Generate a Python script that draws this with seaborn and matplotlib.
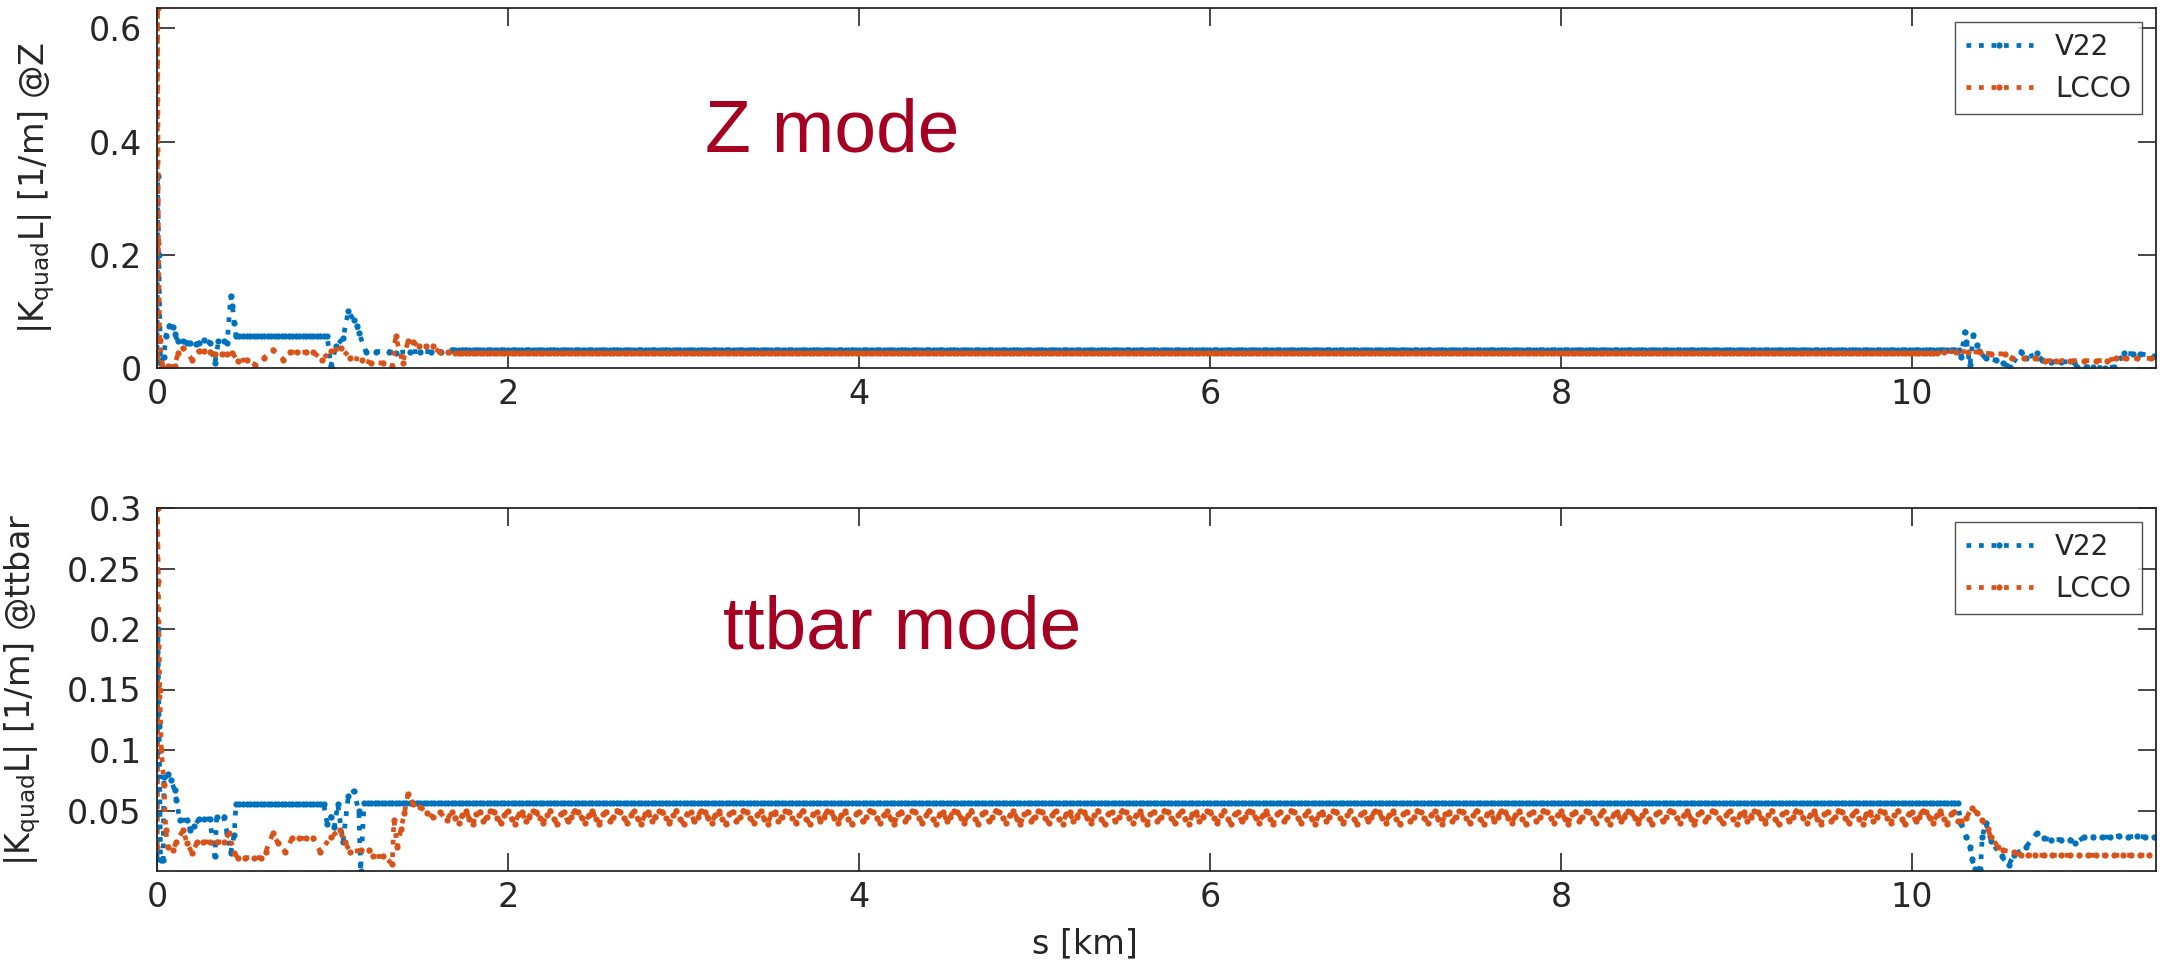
import numpy as np
import pandas as pd
import matplotlib
matplotlib.use("Agg")
import matplotlib.pyplot as plt
import seaborn as sns

# ── data (s in km, |K L| in 1/m) ─────────────────────────────────
STEP = 0.02  # quad spacing used for the flat / periodic stretches

lattices = ["V22", "LCCO"]
colors = ["#0072BD", "#D95319"]

# Z mode, V22
z_v22_s = [0, 0.004, 0.01, 0.02, 0.04, 0.05, 0.07, 0.09, 0.10, 0.12, 0.15, 0.17,
           0.19, 0.22, 0.24, 0.27, 0.30, 0.33, 0.35, 0.38, 0.40, 0.42, 0.43, 0.44,
           0.99, 1.02, 1.06, 1.09, 1.12, 1.14, 1.15, 1.19, 1.25, 1.32, 1.36, 1.44,
           1.50, 1.56, 1.62, 1.68,
           10.27, 10.28, 10.30, 10.31, 10.33, 10.35, 10.37, 10.38, 10.42, 10.48,
           10.52, 10.56, 10.62, 10.65, 10.71, 10.74, 10.79, 10.85, 10.92, 10.94,
           10.99, 11.03, 11.10, 11.15, 11.21, 11.26, 11.30, 11.38]
z_v22_k = [0.01, 0.34, 0.20, 0.009, 0.02, 0.056, 0.075, 0.072, 0.06, 0.047, 0.047, 0.045,
           0.044, 0.043, 0.044, 0.05, 0.045, 0.009, 0.047, 0.047, 0.045, 0.127, 0.11, 0.08,
           0.003, 0.038, 0.053, 0.10, 0.085, 0.074, 0.062, 0.029, 0.029, 0.029, 0.027, 0.029,
           0.029, 0.029, 0.029, 0.032,
           0.032, 0.02, 0.064, 0.046, 0.005, 0.058, 0.041, 0.03, 0.017, 0.014,
           0.008, 0.002, 0.029, 0.017, 0.026, 0.014, 0.011, 0.011, 0.011, 0.002,
           0.002, 0.002, 0.0, 0.002, 0.026, 0.025, 0.025, 0.021]
z_v22_flat = [(0.45, 0.97, 0.056), (1.70, 10.25, 0.032)]

# Z mode, LCCO
z_lcco_s = [0, 0.003, 0.008, 0.015, 0.03, 0.06, 0.10, 0.12, 0.15, 0.20, 0.24, 0.27,
            0.30, 0.33, 0.37, 0.40, 0.43, 0.46, 0.51, 0.56, 0.61, 0.66, 0.72, 0.76,
            0.80, 0.85, 0.89, 0.94, 0.99, 1.05, 1.10, 1.17, 1.22, 1.29, 1.34, 1.36,
            1.40, 1.43, 1.46, 1.49, 1.53, 1.57, 1.61, 1.66,
            10.18, 10.25, 10.32, 10.39, 10.45, 10.53, 10.57, 10.64, 10.70, 10.76,
            10.82, 10.90, 10.98, 11.05, 11.11, 11.16, 11.22, 11.28, 11.36]
z_lcco_k = [0.02, 0.636, 0.22, 0.05, 0.003, 0.003, 0.003, 0.027, 0.035, 0.015, 0.03, 0.03,
            0.029, 0.024, 0.024, 0.025, 0.027, 0.012, 0.015, 0.006, 0.018, 0.032, 0.015, 0.028,
            0.028, 0.028, 0.028, 0.015, 0.030, 0.035, 0.018, 0.015, 0.009, 0.009, 0.003, 0.056,
            0.009, 0.048, 0.046, 0.038, 0.038, 0.038, 0.028, 0.028,
            0.029, 0.029, 0.029, 0.028, 0.025, 0.025, 0.017, 0.017, 0.017, 0.013,
            0.013, 0.013, 0.013, 0.013, 0.013, 0.017, 0.017, 0.017, 0.017]
z_lcco_flat = [(1.70, 10.15, 0.026)]

# ttbar mode, V22
tt_v22_s = [0, 0.005, 0.012, 0.02, 0.035, 0.04, 0.06, 0.08, 0.10, 0.11, 0.13, 0.17,
            0.19, 0.21, 0.24, 0.27, 0.30, 0.33, 0.34, 0.38, 0.40, 0.42, 0.44,
            0.97, 0.99, 1.01, 1.03, 1.06, 1.09, 1.12, 1.15, 1.16,
            10.28, 10.31, 10.33, 10.34, 10.36, 10.39, 10.40, 10.42, 10.45, 10.51,
            10.55, 10.58, 10.65, 10.71, 10.75, 10.79, 10.85, 10.90, 10.93, 10.98,
            11.03, 11.08, 11.13, 11.18, 11.23, 11.28, 11.33, 11.38]
tt_v22_k = [0.01, 0.20, 0.12, 0.009, 0.009, 0.078, 0.08, 0.075, 0.067, 0.059, 0.042, 0.042,
            0.034, 0.037, 0.043, 0.043, 0.043, 0.012, 0.045, 0.045, 0.031, 0.015, 0.03,
            0.039, 0.045, 0.036, 0.055, 0.024, 0.062, 0.066, 0.050, 0.0,
            0.039, 0.028, 0.02, 0.01, 0.002, 0.002, 0.028, 0.040, 0.025, 0.012,
            0.005, 0.013, 0.020, 0.031, 0.027, 0.026, 0.026, 0.026, 0.023, 0.028,
            0.028, 0.028, 0.028, 0.029, 0.028, 0.029, 0.028, 0.028]
tt_v22_flat = [(0.45, 0.96, 0.055), (1.18, 10.27, 0.056)]

# ttbar mode, LCCO
tt_lcco_s = [0, 0.003, 0.008, 0.015, 0.025, 0.04, 0.05, 0.06, 0.09, 0.11, 0.15, 0.17,
             0.20, 0.23, 0.26, 0.30, 0.34, 0.38, 0.41, 0.44, 0.46, 0.50, 0.55, 0.59,
             0.62, 0.66, 0.69, 0.73, 0.77, 0.81, 0.85, 0.89, 0.93, 0.99, 1.04, 1.07,
             1.10, 1.16, 1.21, 1.23, 1.29, 1.34, 1.35, 1.37, 1.39, 1.41, 1.43, 1.46,
             1.50, 1.54, 1.57, 1.61, 1.65,
             10.28, 10.31, 10.34, 10.37, 10.40, 10.43, 10.45, 10.49, 10.52, 10.58,
             10.62, 10.66, 10.70, 10.75, 10.80, 10.85, 10.90, 10.95, 11.00, 11.05,
             11.10, 11.15, 11.20, 11.25, 11.30, 11.35]
tt_lcco_k = [0.02, 0.30, 0.24, 0.15, 0.10, 0.071, 0.034, 0.020, 0.017, 0.024, 0.034, 0.023,
             0.015, 0.024, 0.024, 0.024, 0.024, 0.024, 0.031, 0.015, 0.011, 0.011, 0.011, 0.011,
             0.016, 0.031, 0.023, 0.016, 0.027, 0.027, 0.027, 0.027, 0.016, 0.028, 0.034, 0.024,
             0.016, 0.017, 0.017, 0.012, 0.012, 0.006, 0.042, 0.02, 0.035, 0.048, 0.064, 0.055,
             0.053, 0.048, 0.045, 0.049, 0.042,
             0.041, 0.044, 0.052, 0.048, 0.042, 0.035, 0.028, 0.020, 0.017, 0.016,
             0.013, 0.013, 0.013, 0.013, 0.013, 0.013, 0.013, 0.013, 0.013, 0.013,
             0.013, 0.013, 0.013, 0.013, 0.013, 0.013]
# periodic arc cell of the LCCO ttbar optics
tt_lcco_cell = [0.049, 0.044, 0.040, 0.046, 0.050, 0.043, 0.039, 0.047,
                0.049, 0.041, 0.045, 0.050]
tt_lcco_arc = (1.68, 10.26)


def series(s, k, flats=(), cell=None, arc=None):
    s_all, k_all = list(s), list(k)
    for s0, s1, val in flats:
        pts = np.arange(s0, s1 + 1e-9, STEP)
        s_all += list(pts)
        k_all += [val] * len(pts)
    if cell is not None:
        pts = np.arange(arc[0], arc[1] + 1e-9, STEP)
        s_all += list(pts)
        k_all += list(np.resize(cell, len(pts)))
    order = np.argsort(s_all, kind="stable")
    return np.asarray(s_all)[order], np.asarray(k_all)[order]


def frame(parts):
    dfs = []
    for name, (s, k) in zip(lattices, parts):
        dfs.append(pd.DataFrame({"s": s, "k": k, "lattice": name}))
    return pd.concat(dfs, ignore_index=True)


df_z = frame([series(z_v22_s, z_v22_k, z_v22_flat),
              series(z_lcco_s, z_lcco_k, z_lcco_flat)])
df_tt = frame([series(tt_v22_s, tt_v22_k, tt_v22_flat),
               series(tt_lcco_s, tt_lcco_k, cell=tt_lcco_cell, arc=tt_lcco_arc)])

# ── plot ──────────────────────────────────────────────────────────
sns.set_style("ticks")
plt.rcParams["font.family"] = ["DejaVu Sans"]
plt.rcParams["mathtext.default"] = "regular"

W, H = 2166, 965
fig = plt.figure(figsize=(W / 100, H / 100), dpi=100)
ax1 = fig.add_axes([157 / W, 1 - 368 / H, 1999 / W, 360 / H])
ax2 = fig.add_axes([157 / W, 1 - 871 / H, 1999 / W, 363 / H])

panels = [
    (ax1, df_z, (0, 0.636), [0, 0.2, 0.4, 0.6], ["0", "0.2", "0.4", "0.6"],
     "|K$_{quad}$L| [1/m] @Z", "Z mode", (0.274, 0.60), -0.05),
    (ax2, df_tt, (0, 0.3), [0.05, 0.1, 0.15, 0.2, 0.25, 0.3],
     ["0.05", "0.1", "0.15", "0.2", "0.25", "0.3"],
     "|K$_{quad}$L| [1/m] @ttbar", "ttbar mode", (0.283, 0.612), -0.057),
]

for ax, df, ylim, yt, ytl, ylab, mode, txy, ylx in panels:
    sns.lineplot(data=df, x="s", y="k", hue="lattice", palette=colors,
                 sort=False, estimator=None, legend=False, ax=ax,
                 linestyle=":", linewidth=3.4, marker=".", markersize=9,
                 markeredgewidth=0)
    ax.set_xlim(0, 11.39)
    ax.set_ylim(*ylim)
    ax.set_xticks([0, 2, 4, 6, 8, 10])
    ax.set_xticklabels(["0", "2", "4", "6", "8", "10"])
    ax.set_yticks(yt)
    ax.set_yticklabels(ytl)
    ax.tick_params(direction="in", top=True, right=True, length=13, width=1.2,
                   labelsize=24, colors="#262626")
    ax.tick_params(axis="y", pad=11)
    ax.tick_params(axis="x", pad=7)
    for sp in ax.spines.values():
        sp.set_color("#262626")
        sp.set_linewidth(1.3)
    ax.set_ylabel(ylab, fontsize=24, color="#262626")
    ax.yaxis.set_label_coords(ylx, 0.5)
    ax.set_xlabel("")
    ax.text(txy[0], txy[1], mode, transform=ax.transAxes, fontsize=54,
            family="Liberation Sans", color="#A50021", ha="left", va="baseline")
    ax.legend(ax.lines[:2], lattices, loc="upper right", fontsize=20,
              numpoints=1, handlelength=2.4, frameon=True, fancybox=False,
              edgecolor="#262626", borderaxespad=0.5)

ax2.set_xlabel("s [km]", fontsize=24, color="#262626")
ax2.xaxis.set_label_coords(0.464, -0.155)

fig.savefig("out.png", dpi=100)
